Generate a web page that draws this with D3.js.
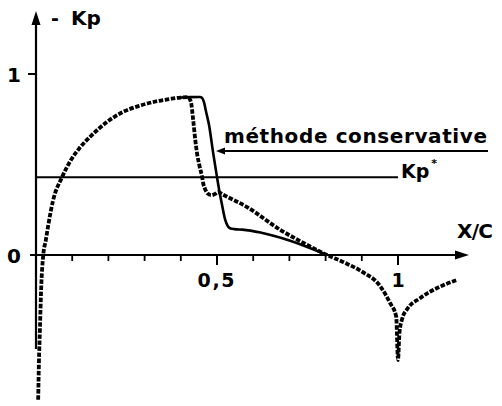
<!DOCTYPE html>
<html>
<head>
<meta charset="utf-8">
<script src="https://cdn.jsdelivr.net/npm/d3@7/dist/d3.min.js"></script>
<style>
  html, body { margin: 0; padding: 0; background: #fff; }
  svg { display: block; }
  text { font-family: "DejaVu Sans", sans-serif; font-weight: bold; fill: #000; }
</style>
</head>
<body>
<svg id="chart" width="502" height="406"></svg>
<script>
// Pressure coefficient -Kp along the chord X/C
// Measured / computed distribution (dotted curve)
const dottedX  = [0.006, 0.008, 0.011, 0.014, 0.020, 0.027, 0.033, 0.047, 0.072, 0.095, 0.120, 0.149, 0.196, 0.240, 0.287, 0.330, 0.370, 0.400, 0.420,
                  0.428, 0.434, 0.440, 0.445, 0.452, 0.459, 0.462, 0.467, 0.474, 0.485, 0.495, 0.503, 0.515,
                  0.583, 0.674, 0.750, 0.804, 0.850, 0.903, 0.950, 0.978, 0.995, 1.000,
                  1.004, 1.012, 1.025, 1.060, 1.116, 1.163];
const dottedKp = [-0.80, -0.60, -0.40, -0.20, 0.00, 0.08, 0.155, 0.30, 0.43, 0.52, 0.59, 0.652, 0.735, 0.79, 0.825, 0.848, 0.862, 0.870, 0.872,
                  0.845, 0.750, 0.635, 0.560, 0.490, 0.430, 0.395, 0.365, 0.340, 0.330, 0.338, 0.348, 0.335,
                  0.265, 0.140, 0.055, 0.000, -0.040, -0.095, -0.170, -0.265, -0.340, -0.580,
                  -0.430, -0.350, -0.300, -0.240, -0.175, -0.138];

// Conservative method (solid curve), where it departs from the dotted one
const solidX  = [0.400, 0.425, 0.453, 0.459, 0.464, 0.470, 0.478, 0.489, 0.500, 0.506, 0.514, 0.522, 0.529, 0.536, 0.548, 0.570, 0.620, 0.700, 0.804];
const solidKp = [0.870, 0.872, 0.873, 0.868, 0.845, 0.790, 0.718, 0.569, 0.430, 0.359, 0.276, 0.200, 0.162, 0.148, 0.143, 0.140, 0.124, 0.080, 0.000];

// Axis ticks and reference levels
const xMinorTicks = [0.1, 0.2, 0.3, 0.4, 0.6, 0.7, 0.8, 0.9];
const xMajorTicks = [0.5, 1];
const xTickLabels = ["0,5", "1"];
const yTicks = [0, 1];
const yTickLabels = ["0", "1"];
const kpStar = 0.43;          // critical level Kp*
const leaderLevel = 0.575;    // leader line of the "méthode conservative" label

const svg = d3.select("#chart");

const x = d3.scaleLinear().domain([0, 1]).range([36, 398]);
const y = d3.scaleLinear().domain([0, 1]).range([255, 74]);

const ink = "#000";

// Y axis with arrow
svg.append("line")
  .attr("x1", x(0)).attr("x2", x(0))
  .attr("y1", y(-0.52)).attr("y2", 20)
  .attr("stroke", ink).attr("stroke-width", 2.2);
svg.append("path")
  .attr("d", `M${x(0)},11 L${x(0) - 4.5},25 L${x(0) + 4.5},25 Z`)
  .attr("fill", ink);

// X axis with arrow
svg.append("line")
  .attr("x1", 30).attr("x2", 460)
  .attr("y1", y(0)).attr("y2", y(0))
  .attr("stroke", ink).attr("stroke-width", 2.2);
svg.append("path")
  .attr("d", `M469,${y(0)} L455,${y(0) - 4.5} L455,${y(0) + 4.5} Z`)
  .attr("fill", ink);

// X ticks
svg.selectAll(".xminor").data(xMinorTicks).join("line")
  .attr("x1", d => x(d)).attr("x2", d => x(d))
  .attr("y1", y(0)).attr("y2", y(0) + 6)
  .attr("stroke", ink).attr("stroke-width", 1.8);
svg.selectAll(".xmajor").data(xMajorTicks).join("line")
  .attr("x1", d => x(d)).attr("x2", d => x(d))
  .attr("y1", y(0)).attr("y2", y(0) + 10)
  .attr("stroke", ink).attr("stroke-width", 2);
svg.selectAll(".xlab").data(xMajorTicks).join("text")
  .attr("x", d => x(d) + (d === 0.5 ? -1 : 0))
  .attr("y", 287)
  .attr("text-anchor", "middle")
  .attr("font-size", 19)
  .attr("textLength", (d, i) => i === 0 ? 37 : null)
  .attr("lengthAdjust", "spacing")
  .text((d, i) => xTickLabels[i]);

// Y ticks
svg.append("line")
  .attr("x1", x(0) - 8).attr("x2", x(0))
  .attr("y1", y(1)).attr("y2", y(1))
  .attr("stroke", ink).attr("stroke-width", 2);
svg.selectAll(".ylab").data(yTicks).join("text")
  .attr("x", 21)
  .attr("y", d => y(d) + 7.5)
  .attr("text-anchor", "end")
  .attr("font-size", 20)
  .text((d, i) => yTickLabels[i]);

// Axis titles
svg.append("text").attr("x", 51).attr("y", 25)
  .attr("font-size", 19).text("-");
svg.append("text").attr("x", 71).attr("y", 25)
  .attr("font-size", 20)
  .text("Kp");
svg.append("text").attr("x", 457).attr("y", 238)
  .attr("font-size", 20).attr("textLength", 36).attr("lengthAdjust", "spacing")
  .text("X/C");

// Kp* reference line
svg.append("line")
  .attr("x1", x(0)).attr("x2", x(1))
  .attr("y1", y(kpStar)).attr("y2", y(kpStar))
  .attr("stroke", ink).attr("stroke-width", 2);
const kpLabel = svg.append("text").attr("x", 401).attr("y", y(kpStar) + 0.5)
  .attr("font-size", 19);
kpLabel.append("tspan").text("Kp");
kpLabel.append("tspan").attr("dy", -11).attr("dx", 2).attr("font-size", 11).text("*");

// Leader line and label for the conservative method
const ly = y(leaderLevel);
svg.append("line")
  .attr("x1", 222).attr("x2", 488)
  .attr("y1", ly).attr("y2", ly)
  .attr("stroke", ink).attr("stroke-width", 2);
svg.append("path")
  .attr("d", `M216,${ly} L225,${ly - 3.5} L225,${ly + 3.5} Z`)
  .attr("fill", ink);
svg.append("text").attr("x", 224).attr("y", 143)
  .attr("font-size", 20).attr("textLength", 263).attr("lengthAdjust", "spacing")
  .text("méthode conservative");

// Curves
const line = d3.line()
  .x(d => x(d[0]))
  .y(d => y(d[1]))
  .curve(d3.curveMonotoneX);

const dotted = dottedX.map((v, i) => [v, dottedKp[i]]);
const solid = solidX.map((v, i) => [v, solidKp[i]]);

svg.append("path")
  .attr("d", line(solid))
  .attr("fill", "none")
  .attr("stroke", ink)
  .attr("stroke-width", 2.6)
  .attr("stroke-linejoin", "round");

svg.append("path")
  .attr("d", line(dotted))
  .attr("fill", "none")
  .attr("stroke", ink)
  .attr("stroke-width", 3.8)
  .attr("stroke-dasharray", "4.5,1.6");
</script>
</body>
</html>
